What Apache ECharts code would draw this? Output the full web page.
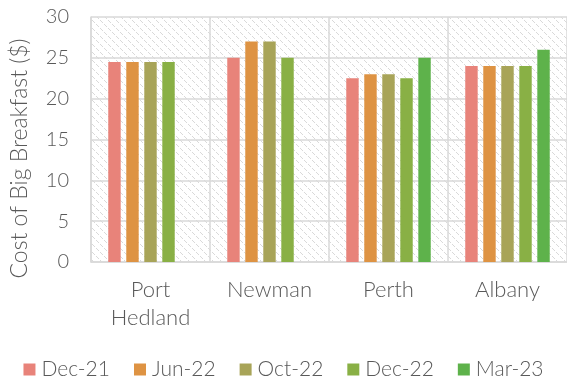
<!DOCTYPE html>
<html>
<head>
<meta charset="utf-8">
<script src="https://cdn.jsdelivr.net/npm/echarts@6/dist/echarts.min.js"></script>
<style>
    html, body { margin: 0; padding: 0; background: #fff; }
    #chart { width: 567px; height: 386px; }
</style>
</head>
<body>
<div id="chart"></div>
<script>
    var towns = ['Port\nHedland', 'Newman', 'Perth', 'Albany'];
    var periods = ['Dec-21', 'Jun-22', 'Oct-22', 'Dec-22', 'Mar-23'];
    var dec21 = [24.5, 25, 22.5, 24];
    var jun22 = [24.5, 27, 23, 24];
    var oct22 = [24.5, 27, 23, 24];
    var dec22 = [24.5, 25, 22.5, 24];
    var mar23 = [null, null, 25, 26];
    var yTicks = [0, 5, 10, 15, 20, 25, 30];
    var colors = ['#e8837a', '#de9343', '#a8a458', '#89b045', '#5eb24b'];

    // hatch pattern for the plot background
    var tile = document.createElement('canvas');
    tile.width = 8;
    tile.height = 8;
    var ctx = tile.getContext('2d');
    ctx.fillStyle = '#ffffff';
    ctx.fillRect(0, 0, 8, 8);
    ctx.fillStyle = '#d9d9d9';
    for (var i = 0; i < 8; i += 1) {
        if (i % 4 != 3) ctx.fillRect(i, i, 1, 1);
    }

    var textColor = '#595959';
    var font = 'Lato';
    var allSeries = [dec21, jun22, oct22, dec22, mar23];

    var myChart = echarts.init(document.getElementById('chart'), null, { renderer: 'canvas' });
    var option = {
        animation: false,
        color: colors,
        grid: {
            left: 90,
            top: 17,
            right: -3,
            bottom: 124,
            show: true,
            borderWidth: 0,
            backgroundColor: { image: tile, repeat: 'repeat' }
        },
        legend: {
            bottom: 1,
            left: 'center',
            itemWidth: 12,
            itemHeight: 12,
            itemGap: 24,
            icon: 'rect',
            textStyle: { color: textColor, fontSize: 21, fontFamily: font, fontWeight: 300, padding: [0, 0, 0, 1] },
            data: periods
        },
        xAxis: {
            type: 'category',
            data: towns,
            axisTick: { show: false },
            axisLine: { lineStyle: { color: '#d9d9d9', width: 1.5 } },
            splitLine: { show: true, lineStyle: { color: '#d9d9d9', width: 1.5 } },
            axisLabel: {
                color: textColor,
                fontSize: 22,
                fontFamily: font,
                fontWeight: 300,
                lineHeight: 28,
                margin: 14,
                interval: 0
            }
        },
        yAxis: {
            type: 'value',
            min: yTicks[0],
            max: yTicks[yTicks.length - 1],
            interval: 5,
            name: 'Cost of Big Breakfast ($)',
            nameLocation: 'middle',
            nameGap: 60,
            nameTextStyle: { color: textColor, fontSize: 23, fontFamily: font, fontWeight: 300, padding: [0, 38, 0, 0] },
            axisLine: { show: true, lineStyle: { color: '#d9d9d9', width: 1.5 } },
            axisTick: { show: false },
            splitLine: { lineStyle: { color: '#d9d9d9', width: 1.5 } },
            axisLabel: { color: textColor, fontSize: 20, fontFamily: font, fontWeight: 300, margin: 22 }
        },
        series: allSeries.map(function(vals, k) {
            return {
                name: periods[k],
                type: 'bar',
                data: vals,
                barGap: '45%',
                barCategoryGap: '29%'
            };
        })
    };
    myChart.setOption(option);
</script>
</body>
</html>
